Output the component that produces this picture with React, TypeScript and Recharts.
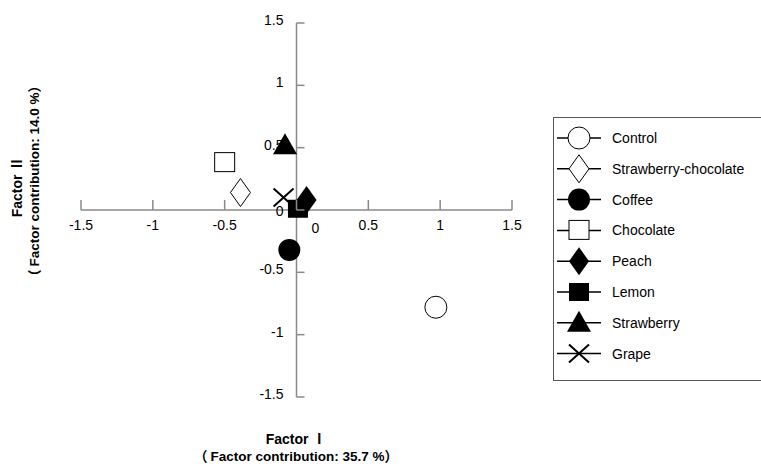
import { ScatterChart, Scatter, XAxis, YAxis, ReferenceLine } from 'recharts';

const seriesNames = [
  'Control',
  'Strawberry-chocolate',
  'Coffee',
  'Chocolate',
  'Peach',
  'Lemon',
  'Strawberry',
  'Grape',
];
const factor1 = [0.97, -0.39, -0.05, -0.5, 0.07, 0.01, -0.08, -0.09];
const factor2 = [-0.78, 0.14, -0.32, 0.38, 0.08, 0.01, 0.52, 0.1];
const markerKinds = ['circleOpen', 'diamondOpen', 'circle', 'squareOpen', 'diamond', 'square', 'triangle', 'cross'];
const axisTicks = [-1.5, -1, -0.5, 0, 0.5, 1, 1.5];

const W = 761;
const H = 464;
const X_AXIS_H = 30;
const Y_AXIS_W = 40;
const M = { top: 23, right: 249, bottom: 67 - X_AXIS_H, left: 81 - Y_AXIS_W };
const PLOT_L = 81;
const PLOT_R = W - 249;
const PLOT_T = 23;
const PLOT_B = H - 67;
const ZERO_X = (PLOT_L + PLOT_R) / 2;
const ZERO_Y = (PLOT_T + PLOT_B) / 2;
const FONT = 'Arial, "Liberation Sans", sans-serif';
const CJK = '"Noto Sans CJK JP", sans-serif';
const AXIS = '#8a8a8a';

function Marker({ kind, cx, cy }: { kind: string; cx: number; cy: number }) {
  switch (kind) {
    case 'circleOpen':
      return <circle cx={cx} cy={cy} r={11} fill="#fff" stroke="#000" strokeWidth={1} />;
    case 'circle':
      return <circle cx={cx} cy={cy} r={11} fill="#000" />;
    case 'diamondOpen':
      return (
        <polygon
          points={`${cx},${cy - 14} ${cx + 10},${cy} ${cx},${cy + 14} ${cx - 10},${cy}`}
          fill="#fff"
          stroke="#000"
        />
      );
    case 'diamond':
      return <polygon points={`${cx},${cy - 14} ${cx + 10},${cy} ${cx},${cy + 14} ${cx - 10},${cy}`} fill="#000" />;
    case 'squareOpen':
      return <rect x={cx - 10} y={cy - 10} width={20} height={19} fill="#fff" stroke="#000" />;
    case 'square':
      return <rect x={cx - 10} y={cy - 9} width={20} height={18} fill="#000" />;
    case 'triangle':
      return <polygon points={`${cx},${cy - 12} ${cx + 12},${cy + 9} ${cx - 12},${cy + 9}`} fill="#000" />;
    case 'cross':
      return (
        <g stroke="#000" strokeWidth={2}>
          <line x1={cx - 10} y1={cy - 9} x2={cx + 10} y2={cy + 9} />
          <line x1={cx - 10} y1={cy + 9} x2={cx + 10} y2={cy - 9} />
        </g>
      );
    default:
      return null;
  }
}

// each tick draws its own short mark on the zero line plus its label
function XTick(props: any) {
  const { x, payload } = props;
  const v = payload.value as number;
  const dx = v === 0 ? 19 : 0;
  const dy = v === 0 ? 3 : 0;
  return (
    <g>
      <rect x={x - 0.75} y={ZERO_Y - 10} width={1.5} height={10} fill={AXIS} />
      <text x={x + dx} y={ZERO_Y + 20 + dy} textAnchor="middle" fontSize={14} fontFamily={FONT} fill="#000">
        {String(v)}
      </text>
    </g>
  );
}

function YTick(props: any) {
  const { y, payload } = props;
  const v = payload.value as number;
  const dy = v === 0 ? 4 : 0;
  return (
    <g>
      <rect x={ZERO_X} y={y - 0.75} width={8} height={1.5} fill={AXIS} />
      <text x={ZERO_X - 13} y={y + 2 + dy} textAnchor="end" fontSize={14} fontFamily={FONT} fill="#000">
        {String(v)}
      </text>
    </g>
  );
}

function LegendBox() {
  return (
    <div
      style={{
        position: 'absolute',
        left: 553,
        top: 117,
        width: 230,
        height: 264,
        border: '1px solid #555',
        background: '#fff',
        boxSizing: 'border-box',
      }}
    >
      <svg width={230} height={264}>
        {seriesNames.map((name, i) => {
          const cy = 20 + i * 30.8;
          return (
            <g key={name}>
              <line x1={3} y1={cy} x2={47} y2={cy} stroke="#000" strokeWidth={1.5} />
              <Marker kind={markerKinds[i]} cx={25} cy={cy} />
              <text x={58} y={cy + 5} fontSize={14} fontFamily={FONT} fill="#000">
                {name}
              </text>
            </g>
          );
        })}
      </svg>
    </div>
  );
}

export default function App() {
  const series = seriesNames.map((name, i) => ({
    name,
    kind: markerKinds[i],
    data: [{ x: factor1[i], y: factor2[i] }],
  }));

  return (
    <div style={{ position: 'absolute', left: 0, top: 0, width: W, height: H, background: '#fff', overflow: 'hidden' }}>
      <ScatterChart width={W} height={H} margin={M}>
        <XAxis
          type="number"
          dataKey="x"
          domain={[-1.5, 1.5]}
          ticks={axisTicks}
          height={X_AXIS_H}
          axisLine={false}
          tickLine={false}
          tick={<XTick />}
          interval={0}
          allowDataOverflow
        />
        <YAxis
          type="number"
          dataKey="y"
          domain={[-1.5, 1.5]}
          ticks={axisTicks}
          width={Y_AXIS_W}
          axisLine={false}
          tickLine={false}
          tick={<YTick />}
          interval={0}
          allowDataOverflow
        />
        <ReferenceLine y={0} stroke={AXIS} strokeWidth={1.5} />
        <ReferenceLine x={0} stroke={AXIS} strokeWidth={1.5} />
        {series.map((s) => (
          <Scatter
            key={s.name}
            name={s.name}
            data={s.data}
            isAnimationActive={false}
            zIndex={700}
            shape={(p: any) => <Marker kind={s.kind} cx={p.cx} cy={p.cy} />}
          />
        ))}
      </ScatterChart>
      <LegendBox />
      <svg width={W} height={H} style={{ position: 'absolute', left: 0, top: 0, pointerEvents: 'none' }}>
        <g fontFamily={FONT} fontWeight="bold" fontSize={14} fill="#000" textAnchor="middle">
          <text x={296} y={444}>
            Factor <tspan fontFamily={CJK}>Ⅰ</tspan>
          </text>
          <text x={296} y={461} fontSize={13.5}>
            <tspan fontFamily={CJK}>（</tspan>
            <tspan dx={3}>Factor contribution: 35.7 %</tspan>
            <tspan fontFamily={CJK}>）</tspan>
          </text>
          <text transform="translate(22,187) rotate(-90)">
            Factor <tspan fontFamily={CJK}>Ⅱ</tspan>
          </text>
          <text transform="translate(39,181) rotate(-90)" fontSize={13.5}>
            <tspan fontFamily={CJK}>（</tspan>
            <tspan dx={3}>Factor contribution: 14.0 %</tspan>
            <tspan fontFamily={CJK}>）</tspan>
          </text>
        </g>
      </svg>
    </div>
  );
}
